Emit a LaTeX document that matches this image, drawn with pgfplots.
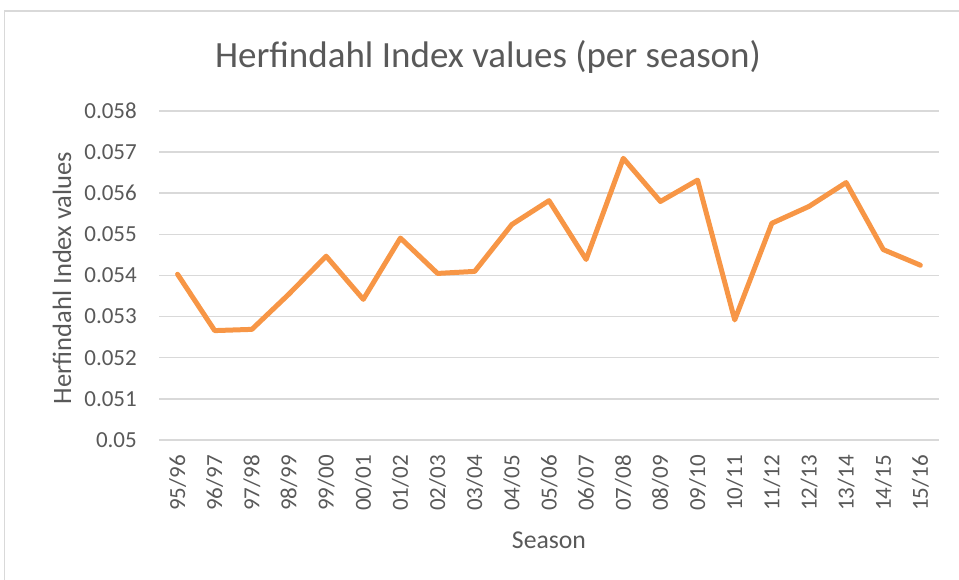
\documentclass[border=0pt]{standalone}
\usepackage{pgfplots}
\pgfplotsset{compat=1.18}
\usepackage{fontspec}
\setmainfont{Carlito}
\definecolor{txt}{RGB}{89,89,89}
\definecolor{grid}{RGB}{217,217,217}
\definecolor{lineor}{RGB}{247,150,70}
\begin{document}
\begin{tikzpicture}[x=1pt,y=1pt]
\path[use as bounding box] (0,0) rectangle (959,580);
\draw[grid, line width=1.5pt] (4.5,0) -- (4.5,569) -- (959,569);
\begin{axis}[
  at={(159pt,140pt)}, anchor=south west,
  width=780pt, height=329pt, scale only axis,
  xmin=-0.5, xmax=20.5, ymin=0.05, ymax=0.058,
  axis line style={draw=none},
  scaled y ticks=false,
  ytick={0.05,0.051,0.052,0.053,0.054,0.055,0.056,0.057,0.058},
  yticklabels={0.05,0.051,0.052,0.053,0.054,0.055,0.056,0.057,0.058},
  xtick={0,...,20},
  xticklabels={95/96,96/97,97/98,98/99,99/00,00/01,01/02,02/03,03/04,04/05,05/06,06/07,07/08,08/09,09/10,10/11,11/12,12/13,13/14,14/15,15/16},
  /pgf/number format/assume math mode=true,
  xmajorgrids=false, ymajorgrids=true,
  y grid style={grid, line width=1.5pt},
  major tick length=0pt,
  xtick style={draw=none}, ytick style={draw=none},
  yticklabel style={font=\fontsize{23}{26}\selectfont, text=txt, anchor=east, inner sep=0pt, xshift=-22pt},
  xticklabel style={font=\fontsize{23}{26}\selectfont, text=txt, yshift=-15pt, rotate=90, anchor=east, inner sep=0pt},
  clip=false,
]
\addplot[lineor, line width=5pt, line join=round, line cap=round] table[x=i, y=v] {
i v
0 0.05403
1 0.05266
2 0.05269
3 0.05355
4 0.05447
5 0.05342
6 0.05491
7 0.05405
8 0.05410
9 0.05524
10 0.05582
11 0.05439
12 0.05685
13 0.05580
14 0.05632
15 0.05292
16 0.05527
17 0.05568
18 0.05626
19 0.05463
20 0.05425
};
\end{axis}
\node[text=txt, font=\fontsize{37}{40}\selectfont, inner sep=0pt] at (488,523) {Herfindahl Index values (per season)};
\node[text=txt, font=\fontsize{25.7}{28}\selectfont, inner sep=0pt] at (549,40) {Season};
\node[text=txt, font=\fontsize{26.5}{28}\selectfont, inner sep=0pt, rotate=90] at (62,302) {Herfindahl Index values};
\end{tikzpicture}
\end{document}
